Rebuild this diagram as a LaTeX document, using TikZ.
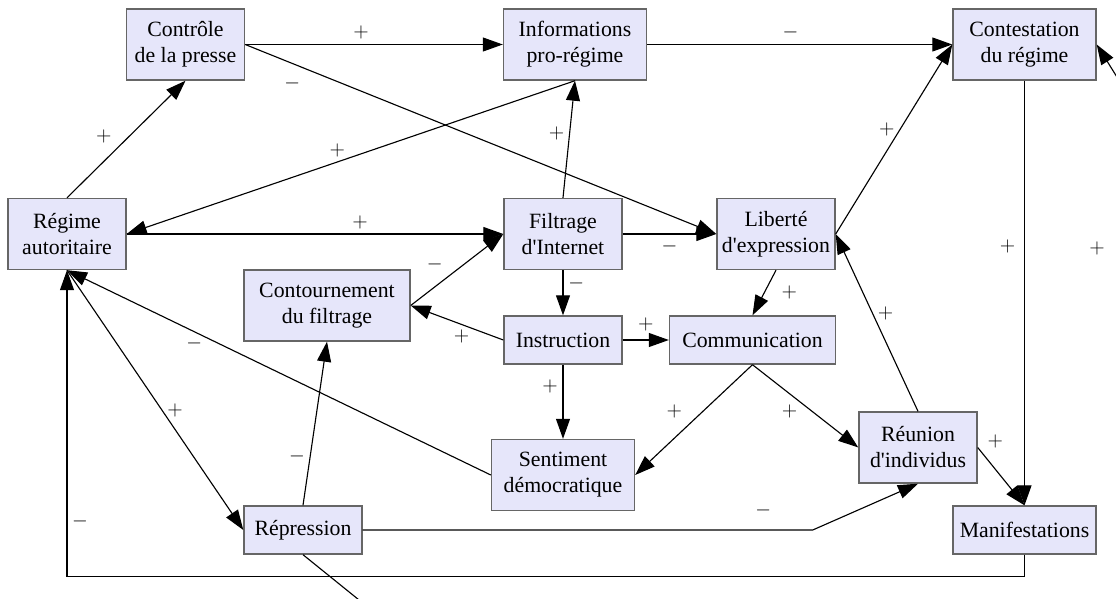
\documentclass[tikz,border=0pt]{standalone}
\usepackage{fontspec}
\setmainfont{Liberation Serif}
\usetikzlibrary{positioning,arrows.meta}
\definecolor{boxfill}{RGB}{230,230,250}

\begin{document}
\begin{tikzpicture}[>={Triangle[length=5mm,width=3.5mm]}, line width=0.8pt,
  font=\fontsize{15.5}{18.5}\selectfont,
  var/.style = {draw=black!60, line width=1pt, fill=boxfill, on grid, align=center,
    inner sep=0.5mm, minimum width=2.95cm, minimum height=1.775cm},
  short/.style = {minimum height=1.2cm},
  wide/.style = {minimum width=3.575cm},
  widest/.style = {minimum width=4.15cm}]
\useasboundingbox (0,0) rectangle (27.9,-14.975);
\node[var] (regime) at (1.675,-5.85) {Régime\\autoritaire};
\node[var] (ctrl) [above right=4.7375cm and 2.9625cm of regime] {Contrôle\\de la presse};
\node[var] (filtr) [right=12.4cm of regime] {Filtrage\\d\textquotesingle Internet};
\node[var, wide] (info) [above right=4.7375cm and 0.3cm of filtr] {Informations\\pro-régime};
\node[var] (liberte) [right=5.325cm of filtr] {Liberté\\d\textquotesingle expression};
\node[var, wide] (cont) [above right=4.7375cm and 6.2125cm of liberte] {Contestation\\du régime};
\node[var, short] (instr) [below=2.65cm of filtr] {Instruction};
\node[var, widest] (contourn) [above left=0.8625cm and 5.9cm of instr] {Contournement\\du filtrage};
\node[var, short, widest] (comm) [right=4.7375cm of instr] {Communication};
\node[var, wide] (sentiment) [below=3.375cm of instr] {Sentiment\\démocratique};
\node[var] (reunion) [below right=2.6875cm and 4.1375cm of comm] {Réunion\\d\textquotesingle individus};
\node[var, short] (repr) [below left=1.375cm and 6.5cm of sentiment] {Répression};
\node[var, short, wide] (manif) [below=12.1375cm of cont] {Manifestations};
\coordinate (offr) at (28.375,-2.65);
\coordinate (offb) at (9.75,-15.625);
\draw[->] (regime.north) -- node[pos=0.42, above left] {$+$} (ctrl.south);
\draw[->] (regime.east) -- node[pos=0.62, above] {$+$} (filtr.west);
\draw[->] (info.south) -- node[pos=0.53, above] {$+$} (regime.east);
\draw[->] (filtr.north) -- node[pos=0.55, left] {$+$} (info.south);
\draw[->] (ctrl.east) -- node[pos=0.45, above] {$+$} (info.west);
\draw[->] (ctrl.east) -- node[pos=0.1, below=2mm] {$-$} (liberte.west);
\draw[->] (info.east) -- node[pos=0.47, above] {$-$} (cont.west);
\draw[->] (liberte.east) -- node[pos=0.55, left] {$+$} (cont.west);
\draw[->] (offr) -- (cont.east);
\node (plusr) at (27.425,-6.2) {$+$};
\draw[->] (filtr.east) -- node[midway, below] {$-$} (liberte.west);
\draw[->] (filtr.south) -- node[pos=0.3, right] {$-$} (instr.north);
\draw[->] (contourn.east) -- node[pos=0.4, above left] {$-$} (filtr.west);
\draw[->] (instr.west) -- node[pos=0.45, below] {$+$} (contourn.east);
\draw[->] (instr.east) -- node[midway, above=1mm] {$+$} (comm.west);
\draw[->] (instr.south) -- node[pos=0.3, left] {$+$} (sentiment.north);
\draw[->] (liberte.south) -- node[midway, right=3mm] {$+$} (comm.north);
\draw[->] (comm.south) -- node[pos=0.42, left=4mm] {$+$} (sentiment.east);
\draw[->] (comm.south) -- node[pos=0.35, below=1.5mm] {$+$} (reunion.west);
\draw[->] (reunion.north) -- node[pos=0.55, right] {$+$} (liberte.east);
\draw[->] (reunion.east) -- node[pos=0.1, above right] {$+$} (manif.north);
\draw[->] (cont.south) -- node[pos=0.39, left=1mm] {$+$} (manif.north);
\draw[->] (manif.south) -- ++(0,-0.55) -| node[pos=0.59, right] {$-$} (regime.south);
\draw[->] (repr.east) -- node[pos=0.89, above=2mm] {$-$} ++(11.25,0) -- (reunion.south);
\draw[->] (repr.north) -- node[pos=0.3, left] {$-$} (contourn.south);
\draw[->] (regime.south) -- node[pos=0.54, right] {$+$} (repr.west);
\draw[->] (sentiment.west) -- node[pos=0.7, below] {$-$} (regime.south);
\draw[->] (repr.south) -- (offb);
\end{tikzpicture}
\end{document}
